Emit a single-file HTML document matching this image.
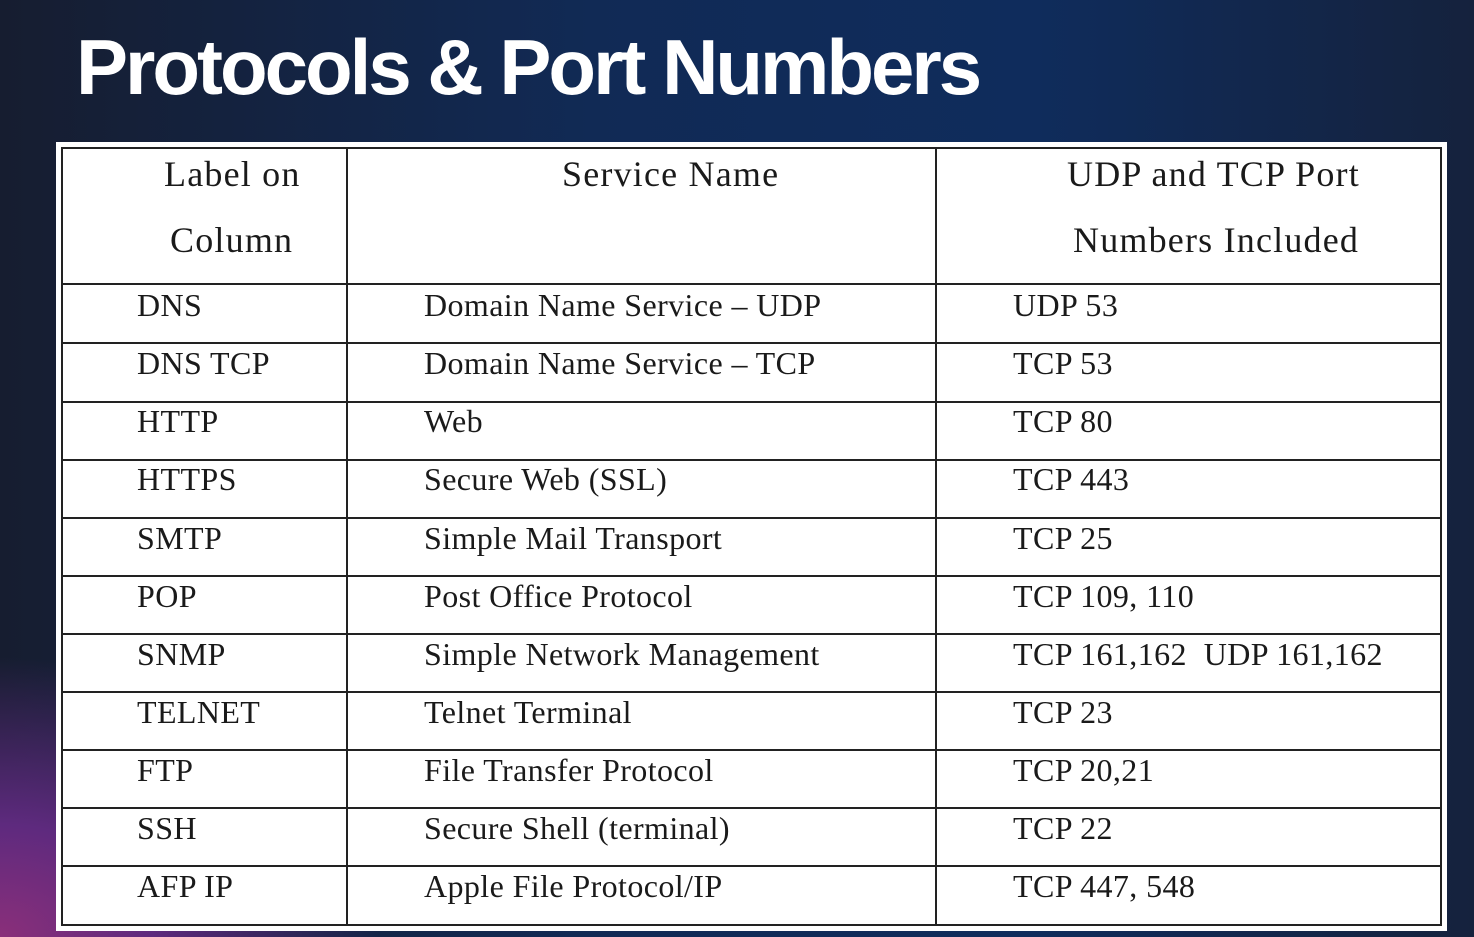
<!DOCTYPE html>
<html><head><meta charset="utf-8"><style>
*{margin:0;padding:0;box-sizing:border-box}
body{width:1474px;height:937px;overflow:hidden;position:relative;
background:radial-gradient(ellipse 380px 280px at 0px 937px,#8a2f7a 0%,#5e2a7e 40%,rgba(30,30,70,0) 100%),
linear-gradient(90deg,#161d30 0%,#112a55 40%,#0f2c5c 70%,#15223d 100%);font-family:"Liberation Serif",serif}
h1{position:absolute;left:76px;top:22px;font-family:"Liberation Sans",sans-serif;font-weight:bold;font-size:78px;color:#fff;letter-spacing:-3px;white-space:nowrap}
.panel{position:absolute;left:56px;top:142px;width:1391px;height:789px;background:#fff}
.l{position:absolute;background:#222}
.t{position:absolute;font-size:32px;color:#1a1a1a;white-space:nowrap;line-height:1;letter-spacing:0.4px}
.h{font-size:36px;letter-spacing:1.2px}
</style></head><body>
<h1>Protocols &amp; Port Numbers</h1>
<div class="panel"></div>
<div class="l" style="left:61px;top:147px;width:1381px;height:2px"></div>
<div class="l" style="left:61px;top:924px;width:1381px;height:2px"></div>
<div class="l" style="left:61px;top:147px;width:2px;height:779px"></div>
<div class="l" style="left:1440px;top:147px;width:2px;height:779px"></div>
<div class="l" style="left:346px;top:147px;width:2px;height:779px"></div>
<div class="l" style="left:935px;top:147px;width:2px;height:779px"></div>
<div class="l" style="left:61px;top:283px;width:1381px;height:2px"></div>
<div class="l" style="left:61px;top:342px;width:1381px;height:2px"></div>
<div class="l" style="left:61px;top:401px;width:1381px;height:2px"></div>
<div class="l" style="left:61px;top:459px;width:1381px;height:2px"></div>
<div class="l" style="left:61px;top:517px;width:1381px;height:2px"></div>
<div class="l" style="left:61px;top:575px;width:1381px;height:2px"></div>
<div class="l" style="left:61px;top:633px;width:1381px;height:2px"></div>
<div class="l" style="left:61px;top:691px;width:1381px;height:2px"></div>
<div class="l" style="left:61px;top:749px;width:1381px;height:2px"></div>
<div class="l" style="left:61px;top:807px;width:1381px;height:2px"></div>
<div class="l" style="left:61px;top:865px;width:1381px;height:2px"></div>

<div class="t h" style="left:164px;top:156px">Label on</div>
<div class="t h" style="left:170px;top:222px">Column</div>
<div class="t h" style="left:562px;top:156px">Service Name</div>
<div class="t h" style="left:1067px;top:156px">UDP and TCP Port</div>
<div class="t h" style="left:1073px;top:222px">Numbers Included</div>

<div class="t" style="left:137px;top:289px">DNS</div><div class="t" style="left:424px;top:289px">Domain Name Service – UDP</div><div class="t" style="left:1013px;top:289px">UDP 53</div>
<div class="t" style="left:137px;top:347px">DNS TCP</div><div class="t" style="left:424px;top:347px">Domain Name Service – TCP</div><div class="t" style="left:1013px;top:347px">TCP 53</div>
<div class="t" style="left:137px;top:405px">HTTP</div><div class="t" style="left:424px;top:405px">Web</div><div class="t" style="left:1013px;top:405px">TCP 80</div>
<div class="t" style="left:137px;top:463px">HTTPS</div><div class="t" style="left:424px;top:463px">Secure Web (SSL)</div><div class="t" style="left:1013px;top:463px">TCP 443</div>
<div class="t" style="left:137px;top:522px">SMTP</div><div class="t" style="left:424px;top:522px">Simple Mail Transport</div><div class="t" style="left:1013px;top:522px">TCP 25</div>
<div class="t" style="left:137px;top:580px">POP</div><div class="t" style="left:424px;top:580px">Post Office Protocol</div><div class="t" style="left:1013px;top:580px">TCP 109, 110</div>
<div class="t" style="left:137px;top:638px">SNMP</div><div class="t" style="left:424px;top:638px">Simple Network Management</div><div class="t" style="left:1013px;top:638px">TCP 161,162&nbsp; UDP 161,162</div>
<div class="t" style="left:137px;top:696px">TELNET</div><div class="t" style="left:424px;top:696px">Telnet Terminal</div><div class="t" style="left:1013px;top:696px">TCP 23</div>
<div class="t" style="left:137px;top:754px">FTP</div><div class="t" style="left:424px;top:754px">File Transfer Protocol</div><div class="t" style="left:1013px;top:754px">TCP 20,21</div>
<div class="t" style="left:137px;top:812px">SSH</div><div class="t" style="left:424px;top:812px">Secure Shell (terminal)</div><div class="t" style="left:1013px;top:812px">TCP 22</div>
<div class="t" style="left:137px;top:870px">AFP IP</div><div class="t" style="left:424px;top:870px">Apple File Protocol/IP</div><div class="t" style="left:1013px;top:870px">TCP 447, 548</div>
</body></html>
